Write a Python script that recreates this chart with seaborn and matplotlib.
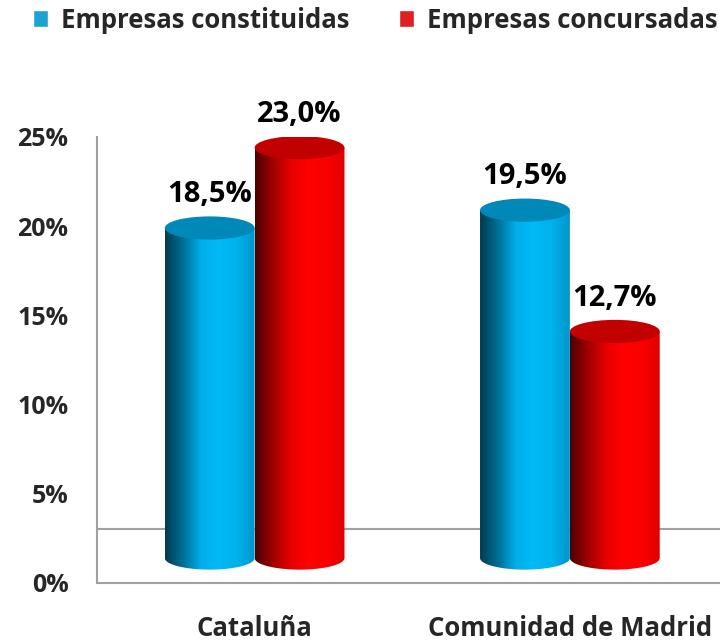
import numpy as np
import pandas as pd
import seaborn as sns
import matplotlib
matplotlib.use("Agg")
from matplotlib import pyplot as plt
from matplotlib.patches import Ellipse, Polygon
from matplotlib.colors import LinearSegmentedColormap
from matplotlib.ticker import FuncFormatter

regions = ["Cataluña", "Comunidad de Madrid"]
series = ["Empresas constituidas", "Empresas concursadas"]
constituidas = [18.5, 19.5]
concursadas = [23.0, 12.7]
y_ticks = [0, 5, 10, 15, 20, 25]

df = pd.DataFrame({
    "region": regions * 2,
    "serie": [series[0]] * 2 + [series[1]] * 2,
    "valor": constituidas + concursadas,
})

sns.set_style("white")
plt.rcParams['font.family'] = ['Open Sans', 'DejaVu Sans']

blue = "#00B0F0"
red = "#FF0000"
cmaps = [
    LinearSegmentedColormap.from_list("cyl_blue", ["#003B52", "#006F96", "#00AEEA", "#00BAF6", "#00B2EC", "#0096CA"]),
    LinearSegmentedColormap.from_list("cyl_red", ["#4A0000", "#A00000", "#E80000", "#FF0000", "#FA0000", "#E00000"]),
]
top_colors = ["#0088B8", "#C20000"]

depth = 1.4      # vertical shift of the 3d floor (data units)
ell_h = 1.3      # ellipse height (data units)

fig = plt.figure(figsize=(7.2, 6.41), dpi=100)
ax = fig.add_axes([97 / 720, 58 / 641, 630.5 / 720, 446 / 641])

sns.barplot(data=df, x="region", y="valor", hue="serie", hue_order=series,
            palette=[blue, red], width=0.57, gap=0, ax=ax)

handles, labels = ax.get_legend_handles_labels()
ax.get_legend().remove()

grad = np.linspace(0, 1, 256).reshape(1, -1)
for cont, cmap, tcol in zip(ax.containers, cmaps, top_colors):
    for bar in cont:
        x0, w, h = bar.get_x(), bar.get_width(), bar.get_height()
        bar.set_visible(False)
        cx = x0 + w / 2
        top = depth + h
        theta = np.linspace(np.pi, 2 * np.pi, 60)
        pts = [(x0, top), (x0, depth)]
        pts += list(zip(cx + w / 2 * np.cos(theta), depth + ell_h / 2 * np.sin(theta)))
        pts += [(x0 + w, top)]
        clip = Polygon(pts, closed=True, transform=ax.transData, facecolor="none", edgecolor="none")
        ax.add_patch(clip)
        im = ax.imshow(grad, extent=[x0, x0 + w, depth - ell_h, top], aspect="auto",
                       cmap=cmap, zorder=2, interpolation="bilinear")
        im.set_clip_path(clip)
        ax.add_patch(Ellipse((cx, top), w, ell_h, facecolor=tcol, edgecolor="none", zorder=3))
        ax.text(cx, top + ell_h / 2 + 0.4, f"{h:.1f}%".replace(".", ","), ha="center", va="bottom",
                fontsize=21, fontweight="bold", color="black", zorder=4)

ax.axhline(3.0, color="#A0A0A0", lw=1.5, zorder=1)

ax.set_xlim(-0.5, 1.5)
ax.set_ylim(0, 25)
ax.set_yticks(y_ticks)
ax.yaxis.set_major_formatter(FuncFormatter(lambda v, p: f"{v:.0f}%"))
ax.set_xticks([-0.5, 0.5, 1.5], minor=True)
ax.set_xticks([0, 1])
ax.set_xticklabels(regions)
ax.set_xlabel("")
ax.set_ylabel("")

for s in ["top", "right"]:
    ax.spines[s].set_visible(False)
for s in ["left", "bottom"]:
    ax.spines[s].set_color("#A0A0A0")
    ax.spines[s].set_linewidth(1.5)

ax.tick_params(axis="y", length=6.5, width=1.5, color="#A0A0A0", pad=14, labelsize=18)
ax.tick_params(axis="x", which="major", length=0, pad=23, labelsize=18.5)
ax.tick_params(axis="x", which="minor", length=5, width=1.5, color="#A0A0A0")
for t in ax.get_yticklabels() + ax.get_xticklabels():
    t.set_fontweight("bold")

fig.legend(handles, labels, loc="center left", bbox_to_anchor=(33 / 720, 1 - 20 / 641),
           ncol=2, frameon=False, prop={"weight": "bold", "size": 18.5},
           borderpad=0, borderaxespad=0,
           handlelength=0.6, handleheight=0.6, handletextpad=0.5, columnspacing=1.9)

fig.savefig("out.png", dpi=100)
